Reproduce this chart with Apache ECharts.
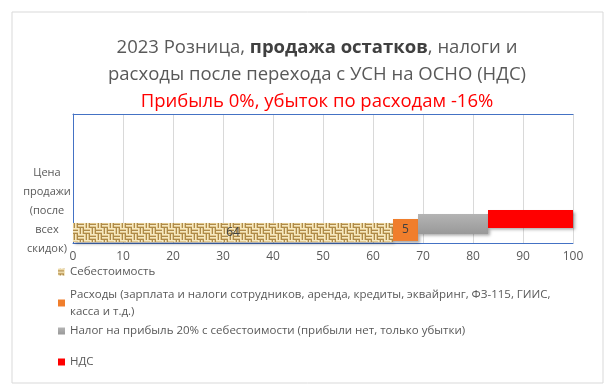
<!DOCTYPE html>
<html><head><meta charset="utf-8">
<script src="https://cdn.jsdelivr.net/npm/echarts@6/dist/echarts.min.js"></script>
<style>html,body{margin:0;padding:0;background:#fff}#c{width:610px;height:391px}</style>
</head><body><div id="c"></div>
<script>
// ---- data ----
const categories = ['Цена продажи (после всех скидок)'];
const seriesNames = [
  'Себестоимость',
  'Расходы (зарплата и налоги сотрудников, аренда, кредиты, эквайринг, ФЗ-115, ГИИС, касса и т.д.)',
  'Налог на прибыль 20% с себестоимости (прибыли нет, только убытки)',
  'НДС'
];
const costValues = [64];
const expenseValues = [5];
const profitTaxValues = [14];
const vatValues = [17];
const xMin = 0, xMax = 100, xInterval = 10;
const titleLine1a = '2023 Розница, ';
const titleLine1b = 'продажа остатков';
const titleLine1c = ', налоги и';
const titleLine2 = 'расходы после перехода с УСН на ОСНО (НДС)';
const titleLine3 = 'Прибыль 0%, убыток по расходам -16%';

// ---- styles ----
const FONT = 'Open Sans';
function burlap(){
  const c = document.createElement('canvas'); c.width = 12; c.height = 12;
  const g = c.getContext('2d');
  g.fillStyle = '#e2c88e'; g.fillRect(0,0,12,12);
  g.fillStyle = '#f5e8c2';
  g.fillRect(0,0,6,1); g.fillRect(0,3,6,1);
  g.fillRect(6,6,6,1); g.fillRect(6,9,6,1);
  g.fillRect(6,0,1,6); g.fillRect(9,0,1,6);
  g.fillRect(0,6,1,6); g.fillRect(3,6,1,6);
  g.fillStyle = '#ae8a4a';
  g.fillRect(0,2,6,1); g.fillRect(0,5,6,1);
  g.fillRect(6,8,6,1); g.fillRect(6,11,6,1);
  g.fillRect(8,0,1,6); g.fillRect(11,0,1,6);
  g.fillRect(2,6,1,6); g.fillRect(5,6,1,6);
  return c;
}
const burlapPattern = { image: burlap(), repeat: 'repeat' };
const grayGrad = new echarts.graphic.LinearGradient(0,0,0,1,[
  {offset:0, color:'#b4b4b4'},{offset:1, color:'#999999'}]);
const barStyles = [
  { fill: burlapPattern, top: 0.345, bottom: 0.492, label: true },
  { fill: '#f07e2c', top: 0.314, bottom: 0.484, label: true },
  { fill: grayGrad, top: 0.275, bottom: 0.43, label: false },
  { fill: '#ff0000', top: 0.244, bottom: 0.384, label: false }
];
const legendCenters = [272, 303, 331, 362];

const allValues = [costValues, expenseValues, profitTaxValues, vatValues];

function makeRender(k){
  return function(params, api){
    const s = api.value(0), e = api.value(1), ci = api.value(2), v = api.value(3);
    const a = api.coord([s, ci]), b = api.coord([e, ci]);
    const band = api.size([0, 1])[1];
    const st = barStyles[k];
    const y0 = a[1] + band * st.top, y1 = a[1] + band * st.bottom;
    const el = {
      type: 'rect',
      shape: { x: a[0], y: y0, width: b[0] - a[0], height: y1 - y0 },
      style: { fill: st.fill, shadowBlur: 3, shadowOffsetX: 2, shadowOffsetY: 2, shadowColor: 'rgba(0,0,0,0.35)' }
    };
    if (st.label) {
      el.textContent = { style: { text: String(v), fill: '#404040', fontSize: 12, fontFamily: FONT } };
      el.textConfig = { position: 'inside' };
    }
    return el;
  };
}

const series = allValues.map((vals, k) => ({
  type: 'custom',
  name: seriesNames[k],
  xAxisIndex: 0, yAxisIndex: 0,
  itemStyle: { color: barStyles[k].fill },
  renderItem: makeRender(k),
  encode: { x: [0, 1], y: 2 },
  data: vals.map((v, i) => {
    let start = 0;
    for (let j = 0; j < k; j++) start += allValues[j][i];
    return [start, start + v, i, v];
  })
}));

const legends = seriesNames.map((n, k) => ({
  data: [n],
  left: 58,
  top: k === 1 ? legendCenters[k] - 25.5 : legendCenters[k] - 8.5,
  padding: 0,
  itemWidth: 7, itemHeight: 7,
  icon: 'rect',
  selectedMode: false,
  formatter: k === 1 ? (name => name.replace(', касса', ',\nкасса')) : undefined,
  textStyle: Object.assign({ color: '#595959', fontSize: 11.5, fontFamily: FONT, lineHeight: 17 },
    k === 1 ? { padding: [17, 0, 0, 0] } : {})
}));

const chart = echarts.init(document.getElementById('c'), null, { renderer: 'canvas' });
chart.setOption({
  animation: false,
  backgroundColor: '#fff',
  title: {
    text: '{a|' + titleLine1a + '}{b|' + titleLine1b + '}{a|' + titleLine1c + '}\n{a|' + titleLine2 + '}\n{r|' + titleLine3 + '}',
    left: 317, top: 34, padding: 0, textAlign: 'center',
    textStyle: {
      fontWeight: 'normal', fontSize: 18.5, fontFamily: FONT,
      rich: {
        a: { fontSize: 18.5, color: '#595959', fontWeight: 'normal', fontFamily: FONT, lineHeight: 27 },
        b: { fontSize: 18.5, color: '#404040', fontWeight: 'bold', fontFamily: FONT, lineHeight: 27 },
        r: { fontSize: 18.5, color: '#ff0000', fontWeight: 'normal', fontFamily: FONT, lineHeight: 27 }
      }
    }
  },
  legend: legends,
  grid: { left: 73, right: 37, top: 114, bottom: 148, containLabel: false },
  xAxis: [{
    type: 'value', min: xMin, max: xMax, interval: xInterval, position: 'bottom',
    axisLine: { show: true, lineStyle: { color: '#4472c4', width: 1 } },
    axisTick: { show: false },
    axisLabel: { color: '#595959', fontSize: 12, fontFamily: FONT, margin: 8 },
    splitLine: { show: true, lineStyle: { color: '#d9d9d9', width: 1 } }
  }, {
    type: 'value', min: xMin, max: xMax, interval: xInterval, position: 'top',
    axisLine: { show: true, lineStyle: { color: '#4472c4', width: 1 } },
    axisTick: { show: false }, axisLabel: { show: false }, splitLine: { show: false }
  }],
  yAxis: [{
    type: 'category', data: categories, position: 'left',
    axisLine: { show: false }, axisTick: { show: false },
    axisLabel: {
      color: '#595959', fontSize: 11, fontFamily: FONT, margin: 26,
      align: 'center', verticalAlign: 'middle',
      formatter: v => '{t|' + v.split(' ').join('}\n{t|') + '}',
      rich: { t: { lineHeight: 19, fontSize: 11, color: '#595959', fontFamily: FONT, padding: [64, 0, 0, 0] } }
    }
  }, {
    type: 'category', data: categories, position: 'right',
    axisLine: { show: true, lineStyle: { color: '#4472c4', width: 1 } },
    axisTick: { show: false }, axisLabel: { show: false }
  }],
  graphic: [{
    type: 'rect', left: 9.5, top: 9.5, silent: true,
    shape: { width: 591, height: 371 },
    style: { fill: 'none', stroke: '#d9d9d9', lineWidth: 1 }
  }],
  series: series
});
</script></body></html>
